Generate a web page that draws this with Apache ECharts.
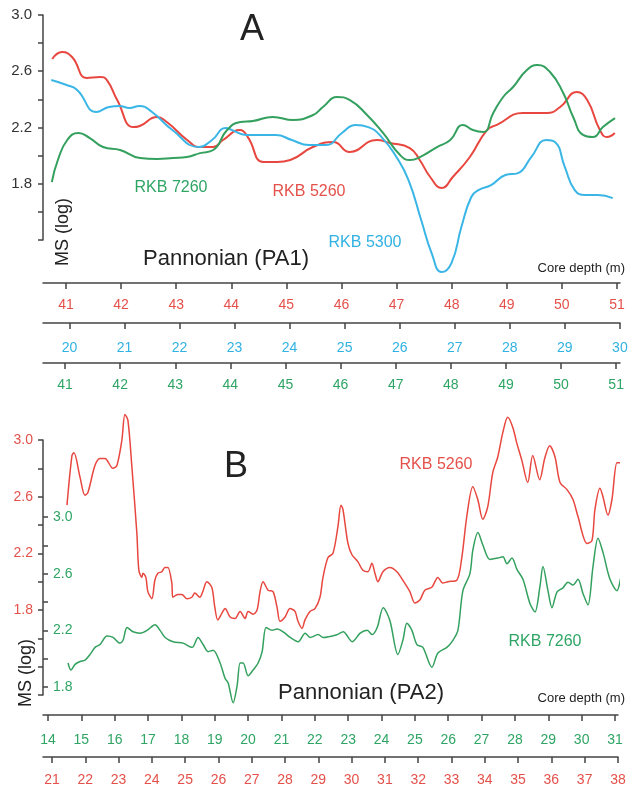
<!DOCTYPE html>
<html>
<head>
<meta charset="utf-8">
<script src="https://cdn.jsdelivr.net/npm/echarts@6/dist/echarts.min.js"></script>
<style>
  html, body { margin: 0; padding: 0; background: #fff; }
  #chart { width: 632px; height: 787px; }
</style>
</head>
<body>
<div id="chart"></div>
<script>
// Panel A (PA1) - depth in m for each core, MS (log)
const aRed5260Depth = [40.75, 40.93, 41.11, 41.38, 41.62, 41.74, 41.93, 42.22, 42.34, 42.65, 42.83, 43.20, 43.43, 43.67, 43.85, 44.16, 44.30, 44.58, 44.83, 45.07, 45.48, 45.85, 46.15, 46.64, 46.88, 47.24, 47.42, 47.61, 47.82, 48.02, 48.33, 48.64, 48.82, 49.29, 49.73, 49.97, 50.27, 50.46, 50.69, 50.82, 50.96];
const aRed5260MS = [2.687, 2.737, 2.701, 2.552, 2.559, 2.538, 2.395, 2.203, 2.211, 2.275, 2.239, 2.111, 2.061, 2.061, 2.111, 2.182, 2.132, 1.955, 1.955, 1.969, 2.061, 2.097, 2.026, 2.111, 2.090, 2.054, 1.969, 1.848, 1.770, 1.848, 1.990, 2.182, 2.218, 2.303, 2.303, 2.346, 2.452, 2.395, 2.182, 2.132, 2.161];

const aCyan5300Depth = [19.67, 19.95, 20.14, 20.49, 20.72, 20.91, 21.09, 21.27, 21.50, 21.87, 22.36, 22.59, 22.84, 22.95, 23.21, 23.50, 23.75, 24.04, 24.35, 24.66, 24.95, 25.20, 25.43, 25.67, 25.94, 26.16, 26.39, 26.58, 26.76, 26.94, 27.12, 27.30, 27.43, 27.66, 27.92, 28.15, 28.39, 28.66, 28.82, 29.00, 29.18, 29.37, 29.60, 29.87];
const aCyan5300MS = [2.538, 2.502, 2.467, 2.310, 2.346, 2.353, 2.339, 2.353, 2.310, 2.182, 2.061, 2.111, 2.196, 2.182, 2.147, 2.147, 2.147, 2.111, 2.075, 2.075, 2.161, 2.218, 2.203, 2.132, 1.990, 1.826, 1.542, 1.307, 1.172, 1.236, 1.492, 1.706, 1.755, 1.791, 1.862, 1.876, 1.990, 2.111, 2.097, 1.919, 1.755, 1.720, 1.720, 1.698];

const aGreen7260Depth = [40.76, 40.87, 41.04, 41.24, 41.45, 41.69, 42.00, 42.36, 42.67, 42.96, 43.21, 43.45, 43.69, 43.94, 44.18, 44.41, 44.77, 45.14, 45.50, 45.68, 45.94, 46.17, 46.48, 46.77, 47.08, 47.26, 47.44, 47.75, 47.99, 48.22, 48.40, 48.59, 48.77, 48.95, 49.13, 49.38, 49.57, 49.80, 50.04, 50.22, 50.40, 50.58, 50.76, 50.98];
const aGreen7260MS = [1.812, 1.969, 2.111, 2.161, 2.125, 2.061, 2.040, 1.983, 1.976, 1.983, 1.990, 2.018, 2.040, 2.182, 2.239, 2.246, 2.275, 2.253, 2.289, 2.346, 2.417, 2.395, 2.289, 2.161, 2.004, 1.969, 1.990, 2.061, 2.111, 2.218, 2.182, 2.168, 2.303, 2.417, 2.488, 2.609, 2.644, 2.595, 2.445, 2.275, 2.147, 2.132, 2.203, 2.267];

// Panel B (PA2)
const bRed5260Depth = [21.45, 21.60, 21.66, 21.84, 21.99, 22.08, 22.29, 22.44, 22.59, 22.83, 22.95, 23.10, 23.19, 23.28, 23.40, 23.55, 23.61, 23.70, 23.73, 23.82, 23.88, 24.00, 24.09, 24.18, 24.30, 24.39, 24.48, 24.60, 24.63, 24.78, 24.90, 25.05, 25.20, 25.29, 25.44, 25.53, 25.65, 25.80, 25.89, 25.98, 26.11, 26.20, 26.35, 26.50, 26.65, 26.80, 26.89, 27.04, 27.16, 27.25, 27.34, 27.49, 27.64, 27.76, 27.85, 28.00, 28.15, 28.30, 28.39, 28.51, 28.60, 28.75, 28.90, 29.05, 29.14, 29.29, 29.44, 29.59, 29.68, 29.74, 29.89, 30.01, 30.19, 30.34, 30.49, 30.61, 30.70, 30.79, 30.94, 31.15, 31.36, 31.54, 31.75, 31.90, 32.05, 32.20, 32.41, 32.59, 32.74, 32.89, 33.16, 33.31, 33.46, 33.64, 33.79, 33.94, 34.09, 34.24, 34.39, 34.54, 34.69, 34.84, 34.96, 35.11, 35.29, 35.44, 35.65, 35.80, 35.95, 36.11, 36.26, 36.47, 36.65, 36.80, 37.07, 37.22, 37.31, 37.46, 37.55, 37.70, 37.82, 37.97, 38.06, 38.15];
const bRed5260MS = [2.54, 2.89, 2.91, 2.74, 2.61, 2.63, 2.82, 2.87, 2.87, 2.80, 2.82, 3.00, 3.18, 3.14, 2.81, 2.34, 2.08, 2.03, 2.06, 2.03, 1.93, 1.88, 2.01, 2.06, 2.07, 2.10, 2.10, 1.99, 1.89, 1.91, 1.91, 1.88, 1.89, 1.92, 1.89, 1.93, 2.00, 1.96, 1.82, 1.73, 1.78, 1.81, 1.75, 1.74, 1.79, 1.74, 1.79, 1.77, 1.80, 1.93, 2.00, 1.94, 1.93, 1.82, 1.72, 1.75, 1.81, 1.79, 1.72, 1.67, 1.73, 1.79, 1.81, 1.89, 2.03, 2.17, 2.20, 2.39, 2.54, 2.51, 2.27, 2.19, 2.14, 2.08, 2.07, 2.13, 2.06, 2.00, 2.07, 2.10, 2.07, 2.01, 1.93, 1.85, 1.87, 1.94, 1.96, 2.03, 1.99, 2.00, 2.01, 2.17, 2.46, 2.67, 2.58, 2.44, 2.53, 2.77, 2.88, 3.05, 3.16, 3.09, 2.98, 2.86, 2.70, 2.89, 2.72, 2.87, 2.96, 2.88, 2.70, 2.65, 2.58, 2.46, 2.27, 2.29, 2.51, 2.66, 2.60, 2.47, 2.58, 2.84, 2.84, 2.80];

const bGreen7260Depth = [14.60, 14.69, 14.81, 14.96, 15.11, 15.26, 15.41, 15.56, 15.77, 15.95, 16.16, 16.25, 16.37, 16.55, 16.76, 16.97, 17.21, 17.36, 17.51, 17.75, 18.05, 18.32, 18.50, 18.65, 18.80, 18.95, 19.16, 19.31, 19.40, 19.55, 19.67, 19.76, 19.85, 20.00, 20.15, 20.30, 20.42, 20.54, 20.72, 20.87, 21.05, 21.26, 21.50, 21.71, 21.86, 22.10, 22.25, 22.67, 22.85, 23.12, 23.36, 23.57, 23.72, 23.87, 24.05, 24.25, 24.49, 24.64, 24.76, 24.91, 25.06, 25.24, 25.51, 25.69, 25.96, 26.14, 26.29, 26.44, 26.65, 26.74, 26.89, 27.04, 27.25, 27.49, 27.64, 27.76, 27.91, 28.06, 28.24, 28.45, 28.60, 28.75, 28.84, 28.99, 29.11, 29.26, 29.44, 29.59, 29.74, 29.89, 30.04, 30.19, 30.34, 30.49, 30.64, 30.85, 31.06, 31.21, 31.36, 31.51];
const bGreen7260MS = [1.97, 1.92, 1.96, 1.98, 1.99, 2.03, 2.08, 2.10, 2.16, 2.15, 2.11, 2.13, 2.22, 2.19, 2.18, 2.20, 2.24, 2.20, 2.15, 2.12, 2.11, 2.08, 2.15, 2.10, 2.05, 2.06, 1.97, 1.86, 1.83, 1.69, 1.81, 1.97, 1.97, 1.88, 1.92, 1.97, 2.05, 2.22, 2.20, 2.21, 2.19, 2.15, 2.12, 2.18, 2.15, 2.17, 2.15, 2.17, 2.19, 2.12, 2.18, 2.20, 2.17, 2.22, 2.36, 2.27, 2.03, 2.13, 2.25, 2.20, 2.10, 2.08, 1.94, 2.04, 2.08, 2.13, 2.20, 2.48, 2.60, 2.77, 2.89, 2.80, 2.70, 2.71, 2.72, 2.67, 2.71, 2.63, 2.56, 2.39, 2.33, 2.51, 2.65, 2.48, 2.36, 2.47, 2.50, 2.54, 2.52, 2.56, 2.46, 2.38, 2.65, 2.85, 2.75, 2.56, 2.48, 2.60, 2.64, 2.61];

// tick labels
const aRedTicks = [41, 42, 43, 44, 45, 46, 47, 48, 49, 50, 51];
const aCyanTicks = [20, 21, 22, 23, 24, 25, 26, 27, 28, 29, 30];
const aGreenTicks = [41, 42, 43, 44, 45, 46, 47, 48, 49, 50, 51];
const bGreenTicks = [14, 15, 16, 17, 18, 19, 20, 21, 22, 23, 24, 25, 26, 27, 28, 29, 30, 31];
const bRedTicks = [21, 22, 23, 24, 25, 26, 27, 28, 29, 30, 31, 32, 33, 34, 35, 36, 37, 38];
const msLabels = [1.8, 2.2, 2.6, 3.0];
const bGreenMinor = [1.8, 2.0, 2.2, 2.4, 2.6, 2.8, 3.0];

const RED = '#e8473f';
const GREEN = '#33a05e';
const CYAN = '#3ab6e6';
const RED_TXT = '#e4514b';
const GREEN_TXT = '#2fa565';
const CYAN_TXT = '#31b2e2';
const AXIS = '#444';
const FONT = "'Liberation Sans', Arial, sans-serif";

const zip = (xs, ys) => xs.map((x, i) => [x, ys[i]]);

function depthAxis(grid, min, max, offset, ticks, color, margin) {
  return {
    type: 'value', gridIndex: grid, position: 'bottom', offset: offset,
    min: min, max: max,
    axisLine: { show: true, onZero: false, lineStyle: { color: AXIS, width: 1.5 } },
    axisTick: { show: true, length: 6, customValues: ticks, lineStyle: { color: AXIS, width: 1.5 } },
    axisLabel: { customValues: ticks, color: color, fontSize: 14, fontFamily: FONT, margin: margin },
    splitLine: { show: false }
  };
}

function lineSeries(name, x, y, data, color, width, smooth) {
  return {
    name: name, type: 'line', xAxisIndex: x, yAxisIndex: y,
    data: data, showSymbol: false, smooth: smooth, clip: false,
    lineStyle: { color: color, width: width },
    itemStyle: { color: color }
  };
}

const chart = echarts.init(document.getElementById('chart'));

const option = {
  backgroundColor: '#fff',
  animation: false,
  grid: [
    { left: 43, top: 15, width: 577, height: 225 },
    { left: 43, top: 440, width: 575, height: 255 }
  ],
  xAxis: [
    depthAxis(0, 40.583, 51.055, 43, aRedTicks, RED_TXT, 15),
    depthAxis(0, 19.52, 30.002, 83, aCyanTicks, CYAN_TXT, 18),
    depthAxis(0, 40.60, 51.07, 123, aGreenTicks, GREEN_TXT, 15),
    depthAxis(1, 13.85, 31.09, 20, bGreenTicks, GREEN_TXT, 18),
    depthAxis(1, 20.73, 38.002, 62, bRedTicks, RED_TXT, 16)
  ],
  yAxis: [
    {
      type: 'value', gridIndex: 0, position: 'left', min: 1.4, max: 3.0, interval: 0.2,
      axisLine: { show: true, lineStyle: { color: AXIS, width: 1.5 } },
      axisTick: { show: true, length: 5, lineStyle: { color: AXIS, width: 1.5 } },
      axisLabel: { customValues: msLabels, color: '#333', fontSize: 15, fontFamily: FONT, margin: 11,
        formatter: v => v.toFixed(1) },
      splitLine: { show: false }
    },
    {
      type: 'value', gridIndex: 1, position: 'left', min: 1.2, max: 3.0, interval: 0.2,
      axisLine: { show: true, lineStyle: { color: AXIS, width: 1.5 } },
      axisTick: { show: true, length: 5, lineStyle: { color: AXIS, width: 1.5 } },
      axisLabel: { customValues: msLabels, color: RED_TXT, fontSize: 14, fontFamily: FONT, margin: 10,
        formatter: v => v.toFixed(1) },
      splitLine: { show: false }
    },
    {
      type: 'value', gridIndex: 1, position: 'left', min: 1.744, max: 3.543,
      axisLine: { show: false },
      axisTick: { show: true, inside: true, length: 5, customValues: bGreenMinor, lineStyle: { color: AXIS, width: 1.5 } },
      axisLabel: { inside: true, customValues: msLabels, color: GREEN_TXT, fontSize: 14, fontFamily: FONT, margin: 10,
        formatter: v => v.toFixed(1) },
      splitLine: { show: false }
    }
  ],
  series: [
    lineSeries('RKB 5260', 0, 0, zip(aRed5260Depth, aRed5260MS), RED, 2, 0.5),
    lineSeries('RKB 5300', 1, 0, zip(aCyan5300Depth, aCyan5300MS), CYAN, 2, 0.5),
    lineSeries('RKB 7260', 2, 0, zip(aGreen7260Depth, aGreen7260MS), GREEN, 2, 0.5),
    lineSeries('RKB 5260', 4, 1, zip(bRed5260Depth, bRed5260MS), RED, 1.5, 0.3),
    lineSeries('RKB 7260', 3, 2, zip(bGreen7260Depth, bGreen7260MS), GREEN, 1.5, 0.3)
  ],
  graphic: [
    { type: 'text', x: 252, y: 30, style: { text: 'A', font: '36px ' + FONT, fill: '#222', align: 'center', verticalAlign: 'middle' } },
    { type: 'text', x: 171, y: 188, style: { text: 'RKB 7260', font: '16px ' + FONT, fill: GREEN_TXT, align: 'center', verticalAlign: 'middle' } },
    { type: 'text', x: 309, y: 192, style: { text: 'RKB 5260', font: '16px ' + FONT, fill: RED_TXT, align: 'center', verticalAlign: 'middle' } },
    { type: 'text', x: 365, y: 243, style: { text: 'RKB 5300', font: '16px ' + FONT, fill: CYAN_TXT, align: 'center', verticalAlign: 'middle' } },
    { type: 'text', x: 63, y: 232, rotation: Math.PI / 2, style: { text: 'MS (log)', font: '18px ' + FONT, fill: '#222', align: 'center', verticalAlign: 'middle' } },
    { type: 'text', x: 226, y: 259, style: { text: 'Pannonian (PA1)', font: '22px ' + FONT, fill: '#222', align: 'center', verticalAlign: 'middle' } },
    { type: 'text', x: 625, y: 268, style: { text: 'Core depth (m)', font: '13px ' + FONT, fill: '#222', align: 'right', verticalAlign: 'middle' } },

    { type: 'text', x: 236, y: 467, style: { text: 'B', font: '36px ' + FONT, fill: '#222', align: 'center', verticalAlign: 'middle' } },
    { type: 'text', x: 436, y: 465, style: { text: 'RKB 5260', font: '16px ' + FONT, fill: RED_TXT, align: 'center', verticalAlign: 'middle' } },
    { type: 'text', x: 545, y: 642, style: { text: 'RKB 7260', font: '16px ' + FONT, fill: GREEN_TXT, align: 'center', verticalAlign: 'middle' } },
    { type: 'text', x: 26, y: 673, rotation: Math.PI / 2, style: { text: 'MS (log)', font: '18px ' + FONT, fill: '#222', align: 'center', verticalAlign: 'middle' } },
    { type: 'text', x: 361, y: 693, style: { text: 'Pannonian (PA2)', font: '22px ' + FONT, fill: '#222', align: 'center', verticalAlign: 'middle' } },
    { type: 'text', x: 625, y: 698, style: { text: 'Core depth (m)', font: '13px ' + FONT, fill: '#222', align: 'right', verticalAlign: 'middle' } }
  ]
};

chart.setOption(option);
</script>
</body>
</html>
